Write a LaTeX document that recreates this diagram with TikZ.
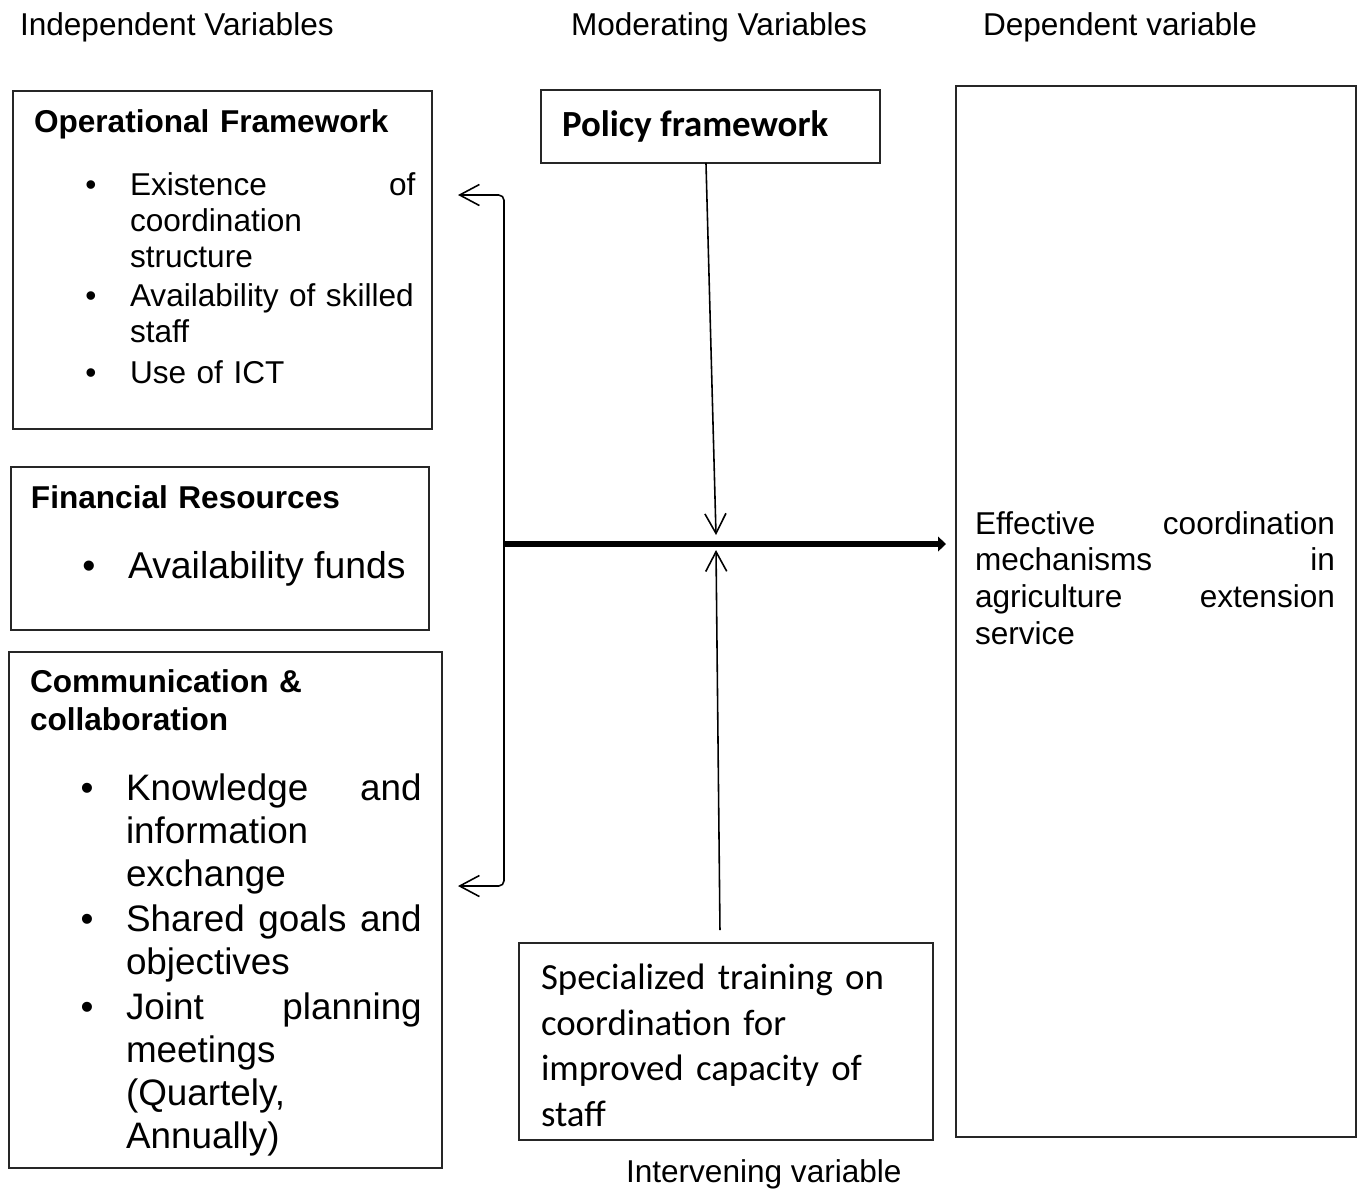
\documentclass[tikz,border=0pt]{standalone}
\usepackage{fontspec}
\setmainfont{Liberation Sans}
\newfontfamily\calibrifont{Carlito}
\usetikzlibrary{arrows.meta,calc}

\begin{document}
\begin{tikzpicture}[
        x=0.38pt, y=-0.38pt,
        every node/.style={inner sep=0pt, outer sep=0pt},
        varbox/.style={draw=black!85, line width=0.5pt, anchor=north west},
        headtext/.style={anchor=base west, font=\fontsize{12}{14}\selectfont},
        boxtitle/.style={anchor=base west, align=left, text width=150pt, font=\fontsize{12}{14.8}\selectfont\bfseries},
        bulletmark/.style={anchor=base},
        smallitem/.style={anchor=base west, align=left, text width=108.5pt, font=\fontsize{12}{13.8}\selectfont},
        largeitem/.style={anchor=base west, align=left, text width=112.4pt, font=\fontsize{14}{16.45}\selectfont},
        arrow/.style={-{Straight Barb[length=7.5pt, width=8pt]}, line width=0.6pt},
        mainarrow/.style={-{Triangle[length=3pt, width=5.5pt]}, line width=2.3pt}
        ]
        \useasboundingbox (0,0) rectangle (1361,1190);

        \node[headtext] (indep) at (20,35) {Independent Variables};
        \node[headtext] (moder) at (571,35) {Moderating Variables};
        \node[headtext] (depend) at (983,35) {Dependent variable};
        \node[headtext] (interv) at (626,1182) {Intervening variable};

        \node[varbox, minimum width=159.2pt, minimum height=128.4pt] (opf) at (13,91) {};
        \node[varbox, minimum width=158.8pt, minimum height=61.9pt] (fin) at (11,467) {};
        \node[varbox, minimum width=164.5pt, minimum height=196.1pt] (comm) at (9,652) {};
        \node[varbox, minimum width=128.8pt, minimum height=27.7pt] (pol) at (541,90) {};
        \node[varbox, minimum width=157.3pt, minimum height=74.9pt] (train) at (519,943) {};
        \node[varbox, minimum width=152pt, minimum height=399.4pt] (dep) at (956,86) {};

        \node[boxtitle] (opftitle) at (34,132.7) {Operational Framework};
        \node[bulletmark, font=\fontsize{12}{14}\selectfont] (opfb1) at (91,195) {\textbullet};
        \node[smallitem] (opfi1) at (130,195) {Existence \hfill of\\coordination\\structure};
        \node[bulletmark, font=\fontsize{12}{14}\selectfont] (opfb2) at (91,306) {\textbullet};
        \node[smallitem] (opfi2) at (130,306) {Availability of skilled\\staff};
        \node[bulletmark, font=\fontsize{12}{14}\selectfont] (opfb3) at (91,383.5) {\textbullet};
        \node[smallitem] (opfi3) at (130,383.5) {Use of ICT};

        \node[boxtitle] (fintitle) at (31,508.7) {Financial Resources};
        \node[bulletmark, font=\fontsize{14.2}{17}\selectfont] (finb1) at (89,578) {\textbullet};
        \node[anchor=base west, font=\fontsize{14.2}{17}\selectfont] (fini1) at (128,578) {Availability funds};

        \node[boxtitle] (commtitle) at (30,692) {Communication \&\\collaboration};
        \node[bulletmark, font=\fontsize{14}{16}\selectfont] (commb1) at (87,800) {\textbullet};
        \node[largeitem] (commi1) at (126,800) {Knowledge \hfill and\\information\\exchange};
        \node[bulletmark, font=\fontsize{14}{16}\selectfont] (commb2) at (87,931) {\textbullet};
        \node[largeitem] (commi2) at (126,931) {Shared\hfill goals\hfill and\\objectives};
        \node[bulletmark, font=\fontsize{14}{16}\selectfont] (commb3) at (87,1019) {\textbullet};
        \node[largeitem] (commi3) at (126,1019) {Joint \hfill planning\\meetings\\(Quartely,\\Annually)};

        \node[anchor=base west, font=\calibrifont\bfseries\fontsize{14}{17}\selectfont] (poltext) at (562,136) {Policy framework};
        \node[anchor=base west, align=left, text width=150pt, font=\calibrifont\fontsize{14}{17.3}\selectfont] (traintext) at (541,989.5) {Specialized training on\\coordination for\\improved capacity of\\staff};
        \node[anchor=base west, align=left, text width=136.8pt, font=\fontsize{12}{13.9}\selectfont] (deptext) at (975,534.3) {Effective \hfill coordination\\mechanisms \hfill in\\agriculture \hfill extension\\service};

        \coordinate (join) at (504,544);
        \coordinate (mid) at (716,544);
        \coordinate (optip) at (458,195);
        \coordinate (cotip) at (458,886);

        \draw[arrow, rounded corners=2pt] (join) |- (optip);
        \draw[arrow, rounded corners=2pt] (join) |- (cotip);
        \draw[mainarrow, shorten >=3.8pt] (join) -- (dep.west |- join);
        \draw[arrow] ($(pol.south)+(-4.5,0)$) -- ($(mid)+(0,-9)$);
        \draw[arrow] ($(train.north)+(-6,-13)$) -- ($(mid)+(0,6)$);

    \end{tikzpicture}
\end{document}
